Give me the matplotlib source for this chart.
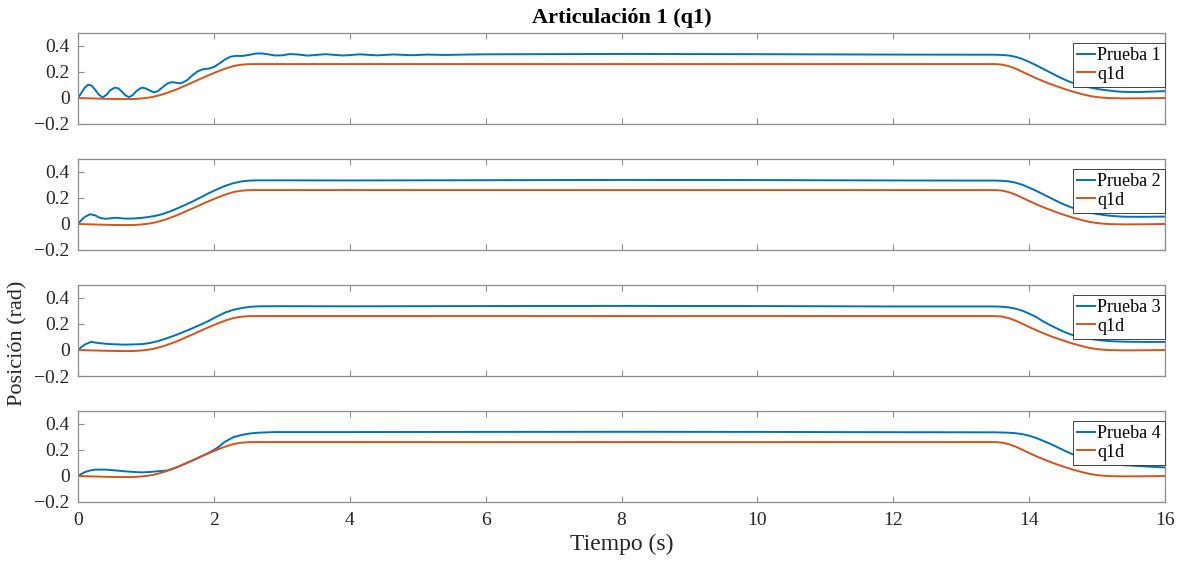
import matplotlib
matplotlib.use("Agg")
import matplotlib.pyplot as plt
import numpy as np

plt.rcParams['font.family'] = ['Liberation Serif', 'DejaVu Serif']

# q1d (trayectoria deseada), común a las cuatro pruebas
q1d_t = [0, 0.2, 0.4, 0.6, 0.8, 0.9, 1.0, 1.1, 1.2, 1.3, 1.4, 1.5, 1.6, 1.7, 1.8, 1.9, 2.0,
         2.1, 2.2, 2.3, 2.4, 2.5, 2.6, 13.5, 13.6, 13.7, 13.8, 13.9, 14.0, 14.1, 14.2, 14.3,
         14.4, 14.5, 14.6, 14.7, 14.8, 14.9, 15.0, 15.1, 15.2, 15.4, 15.7, 16.0]
q1d_v = [0, -0.003, -0.006, -0.008, -0.008, -0.005, 0.0, 0.008, 0.021, 0.037, 0.056, 0.077,
         0.1, 0.123, 0.147, 0.17, 0.192, 0.213, 0.232, 0.247, 0.256, 0.26, 0.261, 0.261, 0.257,
         0.245, 0.226, 0.202, 0.177, 0.153, 0.131, 0.11, 0.091, 0.073, 0.056, 0.041, 0.027,
         0.015, 0.007, 0.002, -0.001, -0.003, -0.002, 0.0]

# Prueba 1
p1_t = [0, 0.05, 0.1, 0.15, 0.2, 0.25, 0.3, 0.36, 0.42, 0.48, 0.545, 0.6, 0.65, 0.7, 0.75,
        0.8, 0.87, 0.94, 1.0, 1.06, 1.12, 1.18, 1.25, 1.32, 1.38, 1.45, 1.52, 1.6, 1.68, 1.76,
        1.84, 1.92, 2.0, 2.08, 2.16, 2.24, 2.32, 2.42, 2.52, 2.62, 2.7, 2.8, 2.9, 3.0, 3.12,
        3.25, 3.38, 3.5, 3.64, 3.77, 3.9, 4.02, 4.15, 4.4, 4.65, 4.9, 5.15, 5.4, 5.7, 6.0,
        8.0, 10.0, 12.0, 13.5, 13.6, 13.7, 13.8, 13.9, 14.0, 14.1, 14.2, 14.3, 14.4, 14.5,
        14.6, 14.7, 14.8, 14.9, 15.0, 15.1, 15.2, 15.3, 15.4, 15.6, 15.8, 16.0]
p1_v = [0, 0.04, 0.08, 0.102, 0.095, 0.065, 0.03, 0.004, 0.025, 0.062, 0.08, 0.072, 0.047,
        0.02, 0.007, 0.02, 0.058, 0.08, 0.073, 0.056, 0.043, 0.055, 0.085, 0.113, 0.122,
        0.117, 0.113, 0.135, 0.172, 0.205, 0.221, 0.226, 0.238, 0.265, 0.295, 0.317, 0.324,
        0.323, 0.332, 0.342, 0.343, 0.336, 0.327, 0.328, 0.338, 0.334, 0.326, 0.331, 0.337,
        0.332, 0.327, 0.331, 0.336, 0.328, 0.335, 0.329, 0.334, 0.331, 0.334, 0.336, 0.339,
        0.337, 0.334, 0.333, 0.331, 0.327, 0.317, 0.300, 0.278, 0.253, 0.226, 0.199, 0.172,
        0.147, 0.124, 0.107, 0.092, 0.080, 0.070, 0.062, 0.056, 0.050, 0.047, 0.046, 0.049,
        0.053]

# Prueba 2
p2_t = [0, 0.05, 0.1, 0.18, 0.25, 0.32, 0.4, 0.48, 0.55, 0.62, 0.7, 0.84, 0.95, 1.04, 1.14,
        1.23, 1.33, 1.43, 1.55, 1.67, 1.8, 1.92, 2.04, 2.16, 2.28, 2.41, 2.53, 2.65, 3.0, 4.0,
        6.0, 8.0, 10.0, 12.0, 13.5, 13.6, 13.7, 13.8, 13.9, 14.0, 14.1, 14.2, 14.3, 14.4,
        14.5, 14.6, 14.7, 14.8, 14.9, 15.0, 15.1, 15.2, 15.3, 15.4, 15.6, 15.8, 16.0]
p2_v = [0, 0.03, 0.055, 0.075, 0.067, 0.048, 0.04, 0.044, 0.048, 0.045, 0.041, 0.043, 0.048,
        0.054, 0.063, 0.074, 0.092, 0.113, 0.14, 0.169, 0.203, 0.236, 0.265, 0.292, 0.313,
        0.328, 0.334, 0.336, 0.336, 0.335, 0.337, 0.339, 0.338, 0.335, 0.334, 0.332, 0.328,
        0.318, 0.302, 0.28, 0.256, 0.23, 0.204, 0.178, 0.153, 0.132, 0.114, 0.099, 0.087,
        0.077, 0.069, 0.063, 0.059, 0.056, 0.055, 0.056, 0.057]

# Prueba 3
p3_t = [0, 0.05, 0.1, 0.19, 0.3, 0.45, 0.69, 0.94, 1.06, 1.18, 1.3, 1.43, 1.55, 1.67, 1.8,
        1.92, 2.04, 2.16, 2.28, 2.41, 2.53, 2.65, 3.0, 4.0, 6.0, 8.0, 10.0, 12.0, 13.5, 13.6,
        13.7, 13.8, 13.9, 14.0, 14.1, 14.2, 14.3, 14.4, 14.5, 14.6, 14.7, 14.8, 14.9, 15.0,
        15.1, 15.2, 15.4, 15.7, 16.0]
p3_v = [0, 0.022, 0.042, 0.062, 0.054, 0.046, 0.041, 0.045, 0.054, 0.069, 0.089, 0.113,
        0.138, 0.164, 0.194, 0.223, 0.256, 0.287, 0.308, 0.323, 0.332, 0.336, 0.337, 0.336,
        0.338, 0.339, 0.338, 0.335, 0.335, 0.333, 0.328, 0.318, 0.302, 0.28, 0.255, 0.222,
        0.194, 0.168, 0.143, 0.122, 0.106, 0.094, 0.085, 0.078, 0.072, 0.068, 0.064, 0.062,
        0.062]

# Prueba 4
p4_t = [0, 0.05, 0.1, 0.18, 0.25, 0.4, 0.55, 0.69, 0.85, 0.94, 1.06, 1.18, 1.3, 1.4, 1.5,
        1.6, 1.7, 1.8, 1.9, 2.0, 2.08, 2.16, 2.28, 2.41, 2.53, 2.65, 2.9, 4.0, 6.0, 8.0, 10.0,
        12.0, 13.5, 13.7, 13.8, 13.9, 14.0, 14.1, 14.2, 14.3, 14.4, 14.5, 14.6, 14.7, 14.8,
        14.9, 15.0, 15.1, 15.2, 15.4, 15.6, 15.8, 16.0]
p4_v = [0, 0.015, 0.03, 0.043, 0.049, 0.049, 0.043, 0.036, 0.03, 0.028, 0.031, 0.037, 0.041,
        0.057, 0.077, 0.1, 0.123, 0.147, 0.172, 0.2, 0.228, 0.262, 0.297, 0.316, 0.327, 0.333,
        0.338, 0.338, 0.339, 0.340, 0.339, 0.337, 0.336, 0.333, 0.329, 0.322, 0.31, 0.293,
        0.272, 0.25, 0.226, 0.2, 0.176, 0.155, 0.137, 0.122, 0.11, 0.1, 0.093, 0.083, 0.077,
        0.071, 0.066]

pruebas = [("Prueba 1", p1_t, p1_v), ("Prueba 2", p2_t, p2_v),
           ("Prueba 3", p3_t, p3_v), ("Prueba 4", p4_t, p4_v)]

yticks = [-0.2, 0, 0.2, 0.4]
ytick_labels = ['\u22120.2', '0', '0.2', '0.4']
xticks = [0, 2, 4, 6, 8, 10, 12, 14, 16]

azul = '#0072BD'
naranja = '#D95319'
gris = '#8c8c8c'

fig = plt.figure(figsize=(11.83, 5.61), dpi=100)

left = 78 / 1183
width = (1165 - 78) / 1183
height = 91 / 561
bottoms = [1 - 124 / 561, 1 - 250 / 561, 1 - 376 / 561, 1 - 502 / 561]

for i, (nombre, t, v) in enumerate(pruebas):
    ax = fig.add_axes([left, bottoms[i], width, height])
    ax.plot(t, v, color=azul, lw=1.4, label=nombre)
    ax.plot(q1d_t, q1d_v, color=naranja, lw=1.4, label='q1d')
    ax.set_xlim(0, 16)
    ax.set_ylim(-0.2, 0.5)
    ax.set_yticks(yticks)
    ax.set_yticklabels(ytick_labels)
    ax.set_xticks(xticks)
    if i < 3:
        ax.set_xticklabels([])
    ax.tick_params(direction='in', top=True, right=True, length=4, width=0.8,
                   color=gris, labelsize=14, labelcolor='#262626')
    ax.tick_params(axis='y', pad=6)
    ax.tick_params(axis='x', pad=7)
    for s in ax.spines.values():
        s.set_color(gris)
        s.set_linewidth(0.9)
    leg = ax.legend(loc='upper right', bbox_to_anchor=(1.0, 0.89), fontsize=13,
                    frameon=True, fancybox=False, framealpha=1, edgecolor='#262626',
                    handlelength=1.0, handletextpad=0.15, labelspacing=0.1,
                    borderpad=0.22, borderaxespad=0.0)
    leg.get_frame().set_linewidth(0.6)

fig.text(left + width / 2, 1 - 18 / 561, 'Articulación 1 (q1)', ha='center', va='center',
         fontsize=16, fontweight='bold', color='#000000')
fig.text(left + width / 2, 1 - 544 / 561, 'Tiempo (s)', ha='center', va='center',
         fontsize=17, color='#262626')
fig.text(18 / 1183, 1 - 343 / 561, 'Posición (rad)', ha='center', va='center',
         rotation=90, fontsize=16, color='#262626')

fig.savefig('out.png', dpi=100)
